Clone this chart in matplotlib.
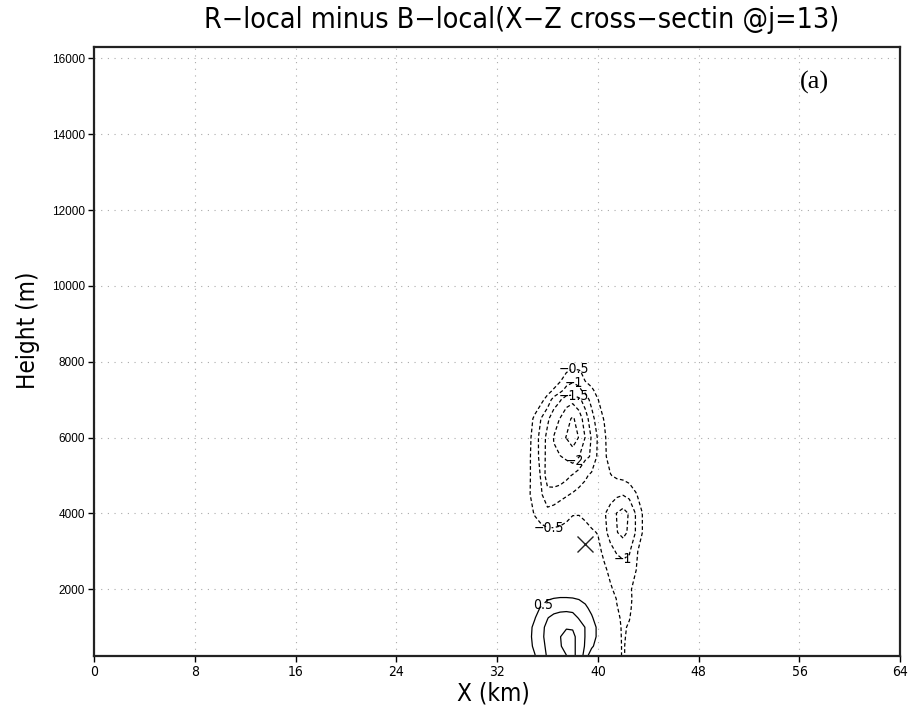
import numpy as np
import matplotlib
matplotlib.use("Agg")
import matplotlib.pyplot as plt

# column positions (km) and row heights (m) of the difference table
x_km = [34.0, 34.5, 35.0, 35.5, 36.0, 36.5, 37.0, 37.5, 38.0, 38.5, 39.0,
        39.5, 40.0, 40.5, 41.0, 41.5, 42.0, 42.5, 43.0, 43.5, 44.0]
z_m = [240, 500, 750, 1000, 1250, 1500, 1750, 2000, 2500, 3000, 3500,
       4000, 4500, 5000, 5500, 6000, 6500, 7000, 7250, 7500, 7750, 8000]

# R-local minus B-local, one row per height (bottom to top)
diff = [
    [0.10, 0.25, 0.48, 0.78, 1.05, 1.20, 1.35, 1.48, 1.62, 1.32, 0.79, 0.07, -0.10, -0.18, -0.25, -0.35, -0.55, -0.35, -0.20, -0.08, 0.00],
    [0.15, 0.38, 0.58, 0.85, 1.10, 1.30, 1.45, 1.70, 1.75, 1.125, 0.98, 0.62, 0.20, -0.05, -0.20, -0.35, -0.55, -0.35, -0.20, -0.08, 0.00],
    [0.15, 0.40, 0.62, 0.90, 1.15, 1.35, 1.49, 1.62, 1.62, 1.32, 0.98, 0.75, 0.40, 0.05, -0.20, -0.35, -0.56, -0.40, -0.20, -0.08, 0.00],
    [0.12, 0.38, 0.60, 0.90, 1.10, 1.30, 1.42, 1.47, 1.45, 1.28, 0.98, 0.75, 0.40, 0.05, -0.20, -0.38, -0.56, -0.45, -0.25, -0.10, 0.00],
    [0.10, 0.30, 0.48, 0.75, 0.98, 1.15, 1.25, 1.28, 1.22, 0.95, 0.80, 0.55, 0.30, 0.00, -0.25, -0.42, -0.58, -0.52, -0.30, -0.12, 0.00],
    [0.05, 0.20, 0.35, 0.55, 0.68, 0.78, 0.83, 0.85, 0.82, 0.72, 0.58, 0.40, 0.20, -0.05, -0.30, -0.48, -0.60, -0.56, -0.35, -0.12, 0.00],
    [0.00, 0.10, 0.20, 0.32, 0.47, 0.51, 0.53, 0.53, 0.52, 0.48, 0.40, 0.25, 0.10, -0.10, -0.30, -0.52, -0.62, -0.58, -0.38, -0.15, 0.00],
    [0.00, 0.05, 0.10, 0.18, 0.25, 0.30, 0.30, 0.30, 0.28, 0.25, 0.20, 0.10, 0.00, -0.20, -0.45, -0.60, -0.65, -0.60, -0.30, -0.12, 0.00],
    [0.00, 0.02, 0.05, 0.08, 0.10, 0.10, 0.10, 0.08, 0.05, 0.00, -0.05, -0.12, -0.20, -0.42, -0.60, -0.72, -0.80, -0.75, -0.52, -0.25, -0.05],
    [0.00, 0.00, 0.02, 0.05, 0.05, 0.05, 0.00, -0.05, -0.10, -0.15, -0.20, -0.25, -0.38, -0.60, -0.85, -1.05, -1.15, -1.05, -0.60, -0.30, -0.05],
    [0.00, -0.05, -0.20, -0.30, -0.38, -0.40, -0.40, -0.38, -0.35, -0.32, -0.38, -0.45, -0.52, -0.85, -1.20, -1.48, -1.65, -1.40, -0.98, -0.52, -0.20],
    [-0.05, -0.30, -0.55, -0.75, -0.85, -0.80, -0.70, -0.60, -0.52, -0.52, -0.58, -0.68, -0.80, -0.95, -1.20, -1.52, -1.70, -1.45, -0.98, -0.52, -0.15],
    [-0.10, -0.42, -0.75, -0.95, -1.30, -1.25, -1.15, -1.05, -0.95, -0.85, -0.78, -0.72, -0.70, -0.72, -0.80, -0.90, -0.97, -0.85, -0.55, -0.30, -0.10],
    [-0.15, -0.40, -0.75, -1.05, -1.80, -1.90, -1.85, -1.65, -1.45, -1.25, -1.08, -0.90, -0.75, -0.62, -0.52, -0.42, -0.35, -0.25, -0.15, -0.05, 0.00],
    [-0.12, -0.38, -0.80, -1.15, -1.70, -1.95, -1.98, -2.08, -2.30, -2.02, -1.60, -1.45, -0.90, -0.60, -0.30, -0.15, -0.08, -0.03, 0.00, 0.00, 0.00],
    [-0.10, -0.35, -0.75, -1.20, -1.65, -2.02, -2.35, -2.52, -2.70, -2.48, -1.98, -1.45, -0.95, -0.58, -0.25, -0.10, -0.03, 0.00, 0.00, 0.00, 0.00],
    [-0.05, -0.25, -0.62, -1.02, -1.40, -1.80, -2.02, -2.35, -2.56, -2.30, -1.70, -1.25, -0.65, -0.48, -0.20, -0.05, 0.00, 0.00, 0.00, 0.00, 0.00],
    [0.00, -0.02, -0.10, -0.35, -0.70, -1.20, -1.45, -1.75, -1.85, -1.60, -1.30, -0.80, -0.52, -0.20, -0.05, 0.00, 0.00, 0.00, 0.00, 0.00, 0.00],
    [0.00, 0.00, 0.00, -0.05, -0.30, -0.55, -0.85, -1.15, -1.12, -1.10, -0.85, -0.60, -0.30, -0.10, 0.00, 0.00, 0.00, 0.00, 0.00, 0.00, 0.00],
    [0.00, 0.00, 0.00, 0.00, -0.10, -0.25, -0.45, -0.80, -0.97, -0.85, -0.48, -0.30, -0.10, 0.00, 0.00, 0.00, 0.00, 0.00, 0.00, 0.00, 0.00],
    [0.00, 0.00, 0.00, 0.00, 0.00, -0.08, -0.25, -0.45, -0.60, -0.55, -0.35, -0.15, 0.00, 0.00, 0.00, 0.00, 0.00, 0.00, 0.00, 0.00, 0.00],
    [0.00, 0.00, 0.00, 0.00, 0.00, 0.00, -0.05, -0.10, -0.20, -0.15, -0.05, 0.00, 0.00, 0.00, 0.00, 0.00, 0.00, 0.00, 0.00, 0.00, 0.00],
]

neg_levels = [-2.5, -2.0, -1.5, -1.0, -0.5]
pos_levels = [0.5, 1.0, 1.5]

x_ticks = [0, 8, 16, 24, 32, 40, 48, 56, 64]
z_ticks = [2000, 4000, 6000, 8000, 10000, 12000, 14000, 16000]

# point marked with a cross (km, m)
mark_x = 39.0
mark_z = 3200


def level_fmt(v):
    return f'{v:g}'.replace('-', '\u2212')


fig = plt.figure(figsize=(9.13, 7.17), dpi=100)
ax = fig.add_axes([0.103, 0.085, 0.883, 0.849])

field = np.array(diff)
cs_neg = ax.contour(x_km, z_m, field, levels=neg_levels, colors='black',
                    linewidths=0.9, linestyles=[(0, (3.0, 2.0))])
cs_pos = ax.contour(x_km, z_m, field, levels=pos_levels, colors='black',
                    linewidths=0.9, linestyles='solid')

neg_spots = [(38.1, 7800), (38.1, 7460), (38.1, 7120), (38.2, 5400),
             (36.1, 3660), (42.0, 2800)]
pos_spots = [(35.6, 1700)]
lab_neg = ax.clabel(cs_neg, manual=neg_spots, inline=True, fmt=level_fmt,
                    fontsize=10, inline_spacing=1)
lab_pos = ax.clabel(cs_pos, manual=pos_spots, inline=True, fmt=level_fmt,
                    fontsize=10, inline_spacing=1)
# keep the level labels upright and narrow
for t in list(lab_neg) + list(lab_pos):
    t.set_rotation(0)
    t.set_fontstretch('condensed')

ax.plot(mark_x, mark_z, marker='x', color='#222222', ms=11, mew=1.0)

ax.set_xlim(0, 64)
ax.set_ylim(240, 16290)
ax.set_xticks(x_ticks)
ax.set_yticks(z_ticks)
ax.set_xticklabels([str(v) for v in x_ticks], fontsize=10, fontstretch='condensed')
ax.set_yticklabels([str(v) for v in z_ticks], family='Liberation Sans', fontsize=8.5)
ax.tick_params(direction='out', length=4, width=1, pad=2.5)
ax.grid(True, color='#aaaaaa', linestyle=(0, (1, 5)), linewidth=0.8)
for sp in ax.spines.values():
    sp.set_linewidth(1.6)
    sp.set_color('#222222')

ax.text(57.2, 15370, '(a)', family='Liberation Serif', fontsize=19,
        ha='center', va='center')

fig.text(0.571, 0.972, 'R\u2212local minus B\u2212local(X\u2212Z cross\u2212sectin @j=13)',
         ha='center', va='center', fontsize=20.5, fontstretch='condensed')
fig.text(0.54, 0.033, 'X (km)', ha='center', va='center', fontsize=17.5,
         fontstretch='condensed')
fig.text(0.031, 0.54, 'Height (m)', ha='center', va='center', rotation=90,
         fontsize=17.5, fontstretch='condensed')

fig.savefig('out.png', dpi=100)
